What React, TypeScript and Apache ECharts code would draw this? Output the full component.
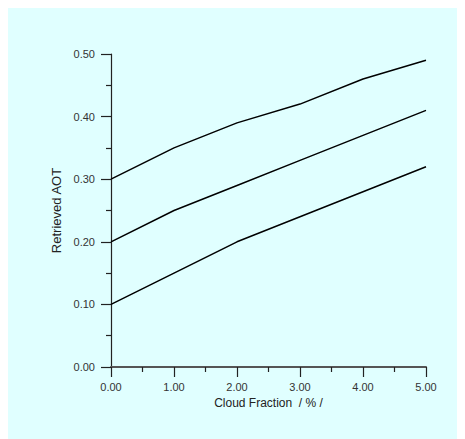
import React, { useEffect, useRef } from "react";
import * as echarts from "echarts";

// Cloud fraction (%) on the x axis
const cloudFraction = [0, 1, 2, 3, 4, 5];

// Retrieved AOT curves for three true aerosol loadings
const aotHigh = [0.3, 0.35, 0.39, 0.42, 0.46, 0.49];
const aotMid = [0.2, 0.25, 0.29, 0.33, 0.37, 0.41];
const aotLow = [0.1, 0.15, 0.2, 0.24, 0.28, 0.32];

const xTitle = "Cloud Fraction  / % /";
const yTitle = "Retrieved AOT";

const FONT = "'Liberation Sans', Arial, sans-serif";

export default function App() {
  const ref = useRef<HTMLDivElement>(null);

  useEffect(() => {
    if (!ref.current) return;
    const chart = echarts.init(ref.current, undefined, { renderer: "svg" });
    const mk = (vals: number[]) => ({
      type: "line",
      data: cloudFraction.map((x, i) => [x, vals[i]]),
      showSymbol: false,
      lineStyle: { color: "#000", width: 1.5 },
      silent: true,
    });
    chart.setOption({
      animation: false,
      backgroundColor: "#E0FFFF",
      grid: { left: 103, top: 46, right: 39, bottom: 72 },
      xAxis: {
        type: "value",
        min: 0,
        max: 5,
        interval: 1,
        name: xTitle,
        nameLocation: "middle",
        nameGap: 24,
        nameTextStyle: { fontFamily: FONT, fontSize: 12, color: "#222" },
        axisLine: { show: true, onZero: false, lineStyle: { color: "#555", width: 2 } },
        axisTick: { show: true, length: 10, inside: false, lineStyle: { color: "#222", width: 1.2 } },
        minorTick: { show: true, splitNumber: 2, length: 5, lineStyle: { color: "#222", width: 1.2 } },
        splitLine: { show: false },
        axisLabel: {
          margin: 14,
          fontFamily: FONT,
          fontSize: 11,
          color: "#333",
          formatter: (v: number) => v.toFixed(2),
        },
      },
      yAxis: {
        type: "value",
        min: 0,
        max: 0.5,
        interval: 0.1,
        name: yTitle,
        nameLocation: "middle",
        nameGap: 46,
        nameTextStyle: { fontFamily: FONT, fontSize: 13, color: "#222" },
        axisLine: { show: true, lineStyle: { color: "#222", width: 1.2 } },
        axisTick: { show: true, length: 10, inside: false, lineStyle: { color: "#222", width: 1.2 } },
        minorTick: { show: true, splitNumber: 2, length: 5, lineStyle: { color: "#222", width: 1.2 } },
        splitLine: { show: false },
        axisLabel: {
          margin: 16,
          fontFamily: FONT,
          fontSize: 11,
          color: "#333",
          formatter: (v: number) => v.toFixed(2),
        },
      },
      series: [mk(aotHigh), mk(aotMid), mk(aotLow)],
    });
    return () => chart.dispose();
  }, []);

  return <div ref={ref} style={{ width: 457, height: 431 }} />;
}
